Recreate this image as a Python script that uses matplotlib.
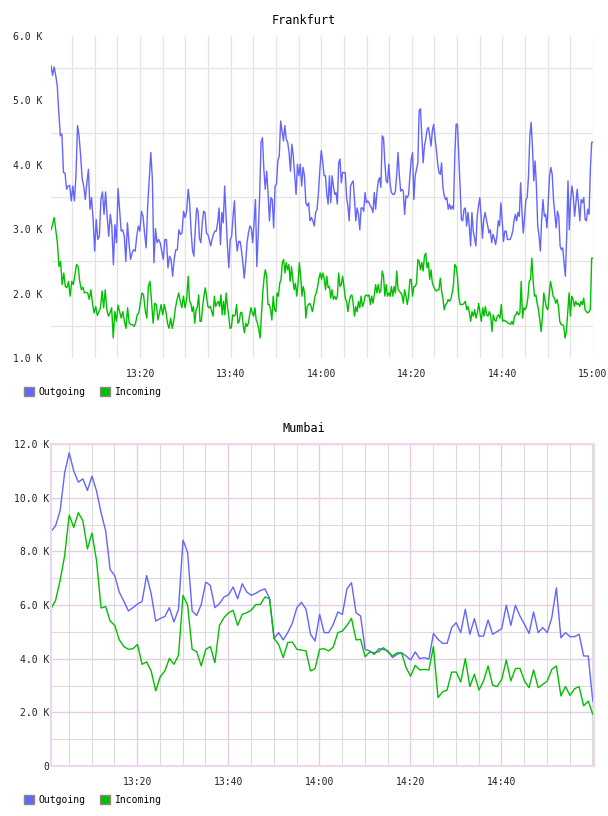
import numpy as np
import pandas as pd
import matplotlib
matplotlib.use('Agg')
import matplotlib.pyplot as plt
import matplotlib.dates as mdates
from matplotlib.patches import Patch
from matplotlib.ticker import FuncFormatter, FixedLocator, MultipleLocator

# values in thousands (K)
day = '2024-01-01 '

# Frankfurt, read in four time windows
fra_edges = ['13:00:20', '13:30:38', '14:00:56', '14:31:14', '15:00:00']
fra_ticks = ['13:20', '13:40', '14:00', '14:20', '14:40', '15:00']

fra_out_q1 = [5.54, 5.39, 5.52, 5.39, 5.23, 4.81, 4.45, 4.48, 3.88, 3.87, 3.62, 3.67, 3.68, 3.44, 3.67, 3.44,
              3.83, 4.61, 4.45, 4.14, 3.78, 3.67, 3.46, 3.72, 3.93, 3.31, 3.49, 3.15, 2.66, 3.15, 2.84, 2.89,
              3.46, 3.58, 3.23, 3.58, 3.20, 2.89, 3.23, 3.05, 2.45, 3.07, 2.79, 3.63, 3.31, 2.97, 2.99, 2.89,
              2.50, 3.10, 2.79, 2.53, 2.63, 2.68, 2.66, 2.89, 3.05, 2.97, 3.28, 3.20, 2.94, 2.71, 3.36, 3.78,
              4.19, 3.78, 2.48, 3.01, 2.79, 2.84, 2.79, 2.66, 2.53, 2.84, 2.84, 2.40, 2.58, 2.53, 2.27, 2.53,
              2.68, 2.68, 2.99, 2.92, 2.94, 3.28, 3.18, 3.28]
fra_out_q2 = [3.62, 3.41, 2.99, 2.68, 2.58, 2.99, 3.33, 3.28, 2.86, 2.79, 3.10, 3.28, 3.26, 2.94, 2.92, 2.84,
              2.74, 2.84, 2.92, 2.97, 2.97, 3.10, 3.33, 2.76, 3.26, 3.10, 3.67, 3.20, 2.74, 2.40, 2.84, 2.89,
              3.20, 3.44, 2.89, 2.66, 2.81, 2.81, 2.68, 2.48, 2.24, 2.48, 2.79, 2.94, 3.05, 3.02, 2.79, 3.10,
              3.46, 2.42, 2.94, 3.52, 4.35, 4.42, 3.93, 3.62, 3.90, 3.57, 3.13, 3.49, 3.46, 3.02, 3.67, 3.70,
              4.06, 4.14, 4.68, 4.53, 4.37, 4.61, 4.40, 4.35, 4.19, 3.90, 4.32, 4.14, 3.83, 3.54, 4.01, 3.83,
              4.01, 3.67, 3.96, 3.83, 3.41, 3.36, 3.41, 3.13, 3.18, 3.13, 3.05, 3.26, 3.31, 3.57, 3.93, 4.22,
              4.06, 3.83]
fra_out_q3 = [3.83, 3.54, 3.39, 3.83, 3.41, 3.83, 3.67, 3.54, 3.57, 3.39, 4.03, 4.09, 3.72, 3.88, 3.88, 3.88,
              3.49, 3.36, 3.13, 3.67, 3.72, 3.75, 3.46, 3.13, 3.33, 3.23, 2.99, 3.33, 3.33, 3.28, 3.57, 3.41,
              3.44, 3.41, 3.36, 3.33, 3.26, 3.57, 3.31, 3.57, 3.75, 3.80, 3.65, 4.45, 4.42, 4.03, 3.75, 3.72,
              4.01, 3.70, 3.57, 3.54, 3.54, 3.59, 3.85, 4.19, 3.83, 3.59, 3.62, 3.59, 3.23, 3.52, 3.49, 3.54,
              3.83, 4.09, 4.19, 3.46, 3.83, 3.93, 4.03, 4.84, 4.87, 4.45, 4.03, 4.29, 4.40, 4.55, 4.58, 4.45,
              4.29, 4.53, 4.63, 4.42, 4.24, 4.03, 3.88, 3.85, 4.03, 3.65, 3.52, 3.46, 3.49, 3.31, 3.39, 3.31,
              3.36, 3.31, 4.14, 4.63, 4.63, 4.16, 3.67, 3.15]
fra_out_q4 = [3.13, 3.31, 3.33, 3.05, 3.26, 3.05, 2.74, 3.26, 2.97, 2.86, 2.74, 3.20, 3.36, 3.49, 3.20, 2.86,
              3.15, 3.26, 3.15, 3.05, 2.94, 2.99, 2.79, 2.92, 2.86, 2.76, 2.89, 3.13, 3.05, 3.41, 3.13, 2.81,
              2.97, 2.97, 2.84, 2.84, 2.84, 2.89, 2.97, 3.13, 3.23, 3.13, 3.26, 3.20, 3.72, 3.28, 2.94, 3.18,
              3.46, 3.49, 3.83, 4.45, 4.66, 4.27, 3.75, 4.06, 3.67, 3.05, 2.89, 2.66, 3.15, 3.46, 3.20, 3.23,
              3.02, 3.41, 3.83, 3.96, 3.85, 3.46, 3.23, 3.02, 3.28, 3.20, 2.74, 2.68, 2.71, 2.48, 2.27, 2.89,
              3.75, 2.99, 3.46, 3.67, 3.52, 3.20, 3.41, 3.62, 3.39, 3.13, 3.46, 3.41, 3.49, 3.15, 3.13, 3.31,
              3.23, 3.93, 4.35, 4.35]

fra_in_q1 = [2.99, 3.07, 3.18, 2.99, 2.79, 2.42, 2.50, 2.14, 2.32, 2.11, 2.09, 2.19, 1.96, 2.19, 2.14, 2.30,
             2.45, 2.42, 2.19, 2.06, 2.10, 2.01, 2.02, 2.01, 1.91, 2.06, 1.85, 1.70, 1.80, 1.66, 1.72, 1.78,
             2.04, 1.78, 2.06, 1.75, 1.65, 1.70, 1.78, 1.31, 1.72, 1.57, 1.82, 1.72, 1.62, 1.72, 1.57, 1.46,
             1.78, 1.54, 1.52, 1.52, 1.49, 1.54, 1.67, 1.70, 1.85, 2.01, 1.98, 1.75, 1.62, 2.11, 2.19, 1.88,
             1.54, 1.85, 1.83, 1.59, 1.70, 1.83, 1.67, 1.83, 1.72, 1.54, 1.46, 1.62, 1.46, 1.59, 1.78, 1.91,
             2.01, 1.88, 1.78, 1.96, 1.78, 1.91]
fra_in_q2 = [2.27, 1.88, 1.85, 1.72, 1.80, 1.54, 1.75, 1.80, 1.98, 1.57, 1.57, 1.80, 1.96, 2.09, 1.96, 1.80,
             1.78, 1.80, 1.72, 1.65, 1.96, 1.80, 1.85, 1.88, 1.80, 1.98, 1.67, 1.88, 1.67, 2.01, 1.80, 1.65,
             1.46, 1.47, 1.67, 1.65, 1.67, 1.83, 1.54, 1.57, 1.70, 1.71, 1.52, 1.39, 1.54, 1.49, 1.54, 1.67,
             1.78, 1.70, 1.65, 1.78, 1.59, 1.54, 1.44, 1.31, 1.65, 2.01, 2.24, 2.37, 2.27, 1.83, 1.83, 1.75,
             1.59, 1.96, 1.75, 1.72, 2.01, 1.96, 2.16, 2.22, 2.48, 2.53, 2.32, 2.48, 2.37, 2.45, 2.19, 2.42,
             2.22, 2.06, 2.16, 1.96, 2.16, 2.48, 2.27, 1.96, 2.11, 2.01, 1.62, 1.80, 1.83, 1.85, 1.80, 1.72,
             1.83, 1.96, 2.01, 2.11, 2.24, 2.32, 2.22, 2.32, 2.24]
fra_in_q3 = [2.06, 2.27, 2.09, 2.11, 1.93, 2.06, 1.91, 1.96, 1.91, 1.96, 2.32, 2.11, 2.14, 2.27, 2.11, 1.93,
             1.88, 1.72, 1.88, 1.96, 1.98, 1.85, 1.65, 1.80, 1.72, 1.88, 1.78, 1.96, 1.80, 1.85, 1.96, 1.98,
             1.96, 1.98, 1.83, 1.96, 1.85, 1.98, 2.14, 2.01, 2.14, 2.01, 2.06, 2.35, 2.27, 1.96, 2.14, 1.96,
             2.01, 1.96, 2.11, 1.96, 2.11, 2.01, 2.35, 2.06, 2.04, 2.01, 1.98, 1.85, 2.06, 1.96, 1.83, 1.96,
             2.22, 2.22, 1.96, 2.11, 2.11, 2.16, 2.53, 2.50, 2.37, 2.48, 2.35, 2.58, 2.63, 2.40, 2.48, 2.22,
             2.37, 2.16, 2.11, 2.06, 2.04, 2.06, 2.06, 2.24, 2.04, 1.93, 1.75, 1.83, 1.85, 1.91, 1.88, 1.91,
             2.01, 2.14, 2.45, 2.42, 2.27, 1.96, 1.83, 1.83]
fra_in_q4 = [1.83, 1.85, 1.88, 1.75, 1.80, 1.70, 1.57, 1.72, 1.65, 1.75, 1.62, 1.70, 1.85, 1.70, 1.57, 1.78,
             1.65, 1.80, 1.67, 1.65, 1.72, 1.67, 1.41, 1.67, 1.59, 1.57, 1.65, 1.67, 1.62, 1.83, 1.57, 1.59,
             1.57, 1.57, 1.54, 1.54, 1.52, 1.57, 1.52, 1.65, 1.67, 1.72, 1.67, 1.70, 2.19, 1.62, 1.78, 1.75,
             1.80, 1.93, 2.19, 2.22, 2.55, 2.19, 1.96, 1.98, 1.85, 1.75, 1.59, 1.41, 1.65, 2.01, 1.88, 1.78,
             1.75, 1.96, 2.19, 2.09, 1.96, 1.93, 1.85, 1.91, 1.80, 1.57, 1.52, 1.52, 1.49, 1.31, 1.41, 1.72,
             2.01, 1.65, 1.96, 1.91, 1.80, 1.88, 1.83, 1.85, 1.80, 1.88, 1.83, 1.93, 1.75, 1.72, 1.70, 1.72,
             1.75, 2.55, 2.55]

# Mumbai, one sample per minute
mum_start = '13:01:04'
mum_end = '15:00:20'
mum_ticks = ['13:20', '13:40', '14:00', '14:20', '14:40']
mum_out = [8.74, 8.95, 9.51, 10.93, 11.67, 10.99, 10.58, 10.70, 10.27, 10.80,
           10.25, 9.44, 8.77, 7.31, 7.10, 6.48, 6.14, 5.78, 5.90, 6.04,
           6.13, 7.10, 6.42, 5.40, 5.50, 5.57, 5.90, 5.37, 5.84, 8.42,
           7.96, 5.78, 5.61, 6.02, 6.85, 6.73, 5.90, 6.05, 6.30, 6.38,
           6.67, 6.23, 6.79, 6.48, 6.36, 6.44, 6.54, 6.60, 6.25, 4.75,
           4.97, 4.70, 4.97, 5.32, 5.90, 6.10, 5.85, 4.91, 4.66, 5.65,
           4.97, 4.97, 5.28, 5.74, 5.65, 6.60, 6.83, 5.71, 5.59, 4.35,
           4.29, 4.16, 4.37, 4.35, 4.29, 4.04, 4.16, 4.22, 4.10, 3.95,
           4.25, 4.00, 4.04, 3.98, 4.94, 4.72, 4.57, 4.57, 5.16, 5.34,
           4.97, 5.84, 4.91, 5.49, 4.84, 4.84, 5.44, 4.91, 5.01, 5.12,
           5.99, 5.24, 5.99, 5.59, 5.28, 4.94, 5.74, 4.97, 5.16, 4.97,
           5.53, 6.64, 4.78, 4.97, 4.82, 4.82, 4.91, 4.10, 4.10, 2.42]
mum_in = [5.86, 6.17, 6.91, 7.84, 9.35, 8.89, 9.44, 9.14, 8.09, 8.68,
          7.65, 5.89, 5.94, 5.40, 5.24, 4.70, 4.45, 4.35, 4.37, 4.53,
          3.79, 3.88, 3.54, 2.80, 3.33, 3.54, 4.01, 3.79, 4.12, 6.36,
          5.99, 4.35, 4.26, 3.73, 4.35, 4.45, 3.85, 5.24, 5.53, 5.71,
          5.80, 5.24, 5.65, 5.71, 5.81, 6.02, 6.02, 6.30, 6.24, 4.75,
          4.53, 4.04, 4.60, 4.62, 4.35, 4.32, 4.29, 3.54, 3.63, 4.35,
          4.37, 4.29, 4.43, 4.97, 5.03, 5.24, 5.50, 4.70, 4.72, 4.07,
          4.25, 4.22, 4.26, 4.41, 4.25, 4.10, 4.22, 4.22, 3.66, 3.35,
          3.75, 3.58, 3.60, 3.58, 4.45, 2.55, 2.76, 2.83, 3.50, 3.50,
          3.13, 4.00, 2.96, 3.42, 2.83, 3.17, 3.73, 3.01, 2.96, 3.23,
          3.95, 3.17, 3.63, 3.64, 3.17, 2.92, 3.58, 2.92, 3.04, 3.17,
          3.60, 3.73, 2.61, 2.96, 2.63, 2.88, 2.96, 2.24, 2.42, 1.93]

BLUE = '#6464ff'
GREEN = '#00c000'
MONO = 'DejaVu Sans Mono'


def stamp(t):
    return pd.Timestamp(day + t)


def window_times(parts, edges):
    # spread each window's samples evenly across that window
    out = []
    for i, part in enumerate(parts):
        last = i == len(parts) - 1
        rng = pd.date_range(stamp(edges[i]), stamp(edges[i + 1]),
                            periods=len(part) + (0 if last else 1))
        out.extend(rng[:len(part)])
    return pd.DatetimeIndex(out)


fra_out = fra_out_q1 + fra_out_q2 + fra_out_q3 + fra_out_q4
fra_in = fra_in_q1 + fra_in_q2 + fra_in_q3 + fra_in_q4
t_out = window_times([fra_out_q1, fra_out_q2, fra_out_q3, fra_out_q4], fra_edges)
t_in = window_times([fra_in_q1, fra_in_q2, fra_in_q3, fra_in_q4], fra_edges)
t_mum = pd.date_range(stamp(mum_start), periods=len(mum_out), freq='1min')

fig = plt.figure(figsize=(6.08, 8.16), dpi=100)

# ---- Frankfurt ----
ax1 = fig.add_axes([51 / 608, 1 - 358 / 816, 542 / 608, 322 / 816])
ax1.plot(t_out, fra_out, color=BLUE, lw=1.0)
ax1.plot(t_in, fra_in, color=GREEN, lw=1.0)
ax1.set_xlim(stamp(fra_edges[0]), stamp(fra_edges[-1]))
ax1.set_ylim(1.0, 6.0)
ax1.set_xticks([stamp(t) for t in fra_ticks])
ax1.xaxis.set_major_formatter(mdates.DateFormatter('%H:%M'))
ax1.xaxis.set_minor_locator(mdates.MinuteLocator(byminute=range(0, 60, 5)))
ax1.yaxis.set_major_locator(MultipleLocator(1.0))
ax1.yaxis.set_minor_locator(FixedLocator(np.arange(1.5, 6.0, 1.0)))
ax1.yaxis.set_major_formatter(FuncFormatter(lambda v, p: f'{v:.1f} K'))
ax1.grid(True, which='both', axis='x', color='#e4e4e4', lw=0.9)
ax1.grid(True, which='minor', axis='y', color='#e4e4e4', lw=0.9)
ax1.set_axisbelow(True)
for s in ax1.spines.values():
    s.set_visible(False)
ax1.tick_params(axis='both', which='both', length=0, labelsize=7, labelcolor='#222222')
ax1.tick_params(axis='y', pad=6)
ax1.tick_params(axis='x', pad=8)

# ---- Mumbai ----
PINK = '#e6cce6'
ax2 = fig.add_axes([51 / 608, 1 - 766 / 816, 543 / 608, 322 / 816])
ax2.plot(t_mum, mum_out, color=BLUE, lw=1.0)
ax2.plot(t_mum, mum_in, color=GREEN, lw=1.0)
ax2.set_xlim(stamp(mum_start), stamp(mum_end))
ax2.set_ylim(0, 12)
ax2.set_xticks([stamp(t) for t in mum_ticks])
ax2.xaxis.set_major_formatter(mdates.DateFormatter('%H:%M'))
ax2.xaxis.set_minor_locator(mdates.MinuteLocator(byminute=range(0, 60, 5)))
ax2.yaxis.set_major_locator(MultipleLocator(2))
ax2.yaxis.set_minor_locator(MultipleLocator(1))
ax2.yaxis.set_major_formatter(FuncFormatter(lambda v, p: '0' if v == 0 else f'{v:.1f} K'))
ax2.grid(True, which='major', color=PINK, lw=1.0)
ax2.grid(True, which='minor', color='#dcdcdc', lw=0.8)
ax2.set_axisbelow(True)
for s in ax2.spines.values():
    s.set_color('#ecd8ec')
    s.set_linewidth(1.5)
ax2.tick_params(axis='both', which='both', length=0, labelsize=7, labelcolor='#222222')
ax2.tick_params(axis='y', pad=1)
ax2.tick_params(axis='x', pad=8)

for a in (ax1, ax2):
    for lab in a.get_xticklabels() + a.get_yticklabels():
        lab.set_family(MONO)

# titles
fig.text(0.5, 1 - 20 / 816, 'Frankfurt', ha='center', va='center', family=MONO, fontsize=8.5)
fig.text(0.5, 1 - 428 / 816, 'Mumbai', ha='center', va='center', family=MONO, fontsize=8.5)

# legends
handles = [Patch(facecolor=BLUE, edgecolor='#888888', lw=1.0),
           Patch(facecolor=GREEN, edgecolor='#888888', lw=1.0)]
labels = ['Outgoing', 'Incoming']
for ly in (392, 800):
    fig.legend(handles, labels, loc='center left', bbox_to_anchor=(24 / 608, 1 - ly / 816),
               ncol=2, frameon=False, borderpad=0, borderaxespad=0,
               handlelength=1.0, handleheight=1.0, handletextpad=0.5, columnspacing=1.5,
               prop={'family': MONO, 'size': 7})

fig.savefig('out.png', dpi=100)
